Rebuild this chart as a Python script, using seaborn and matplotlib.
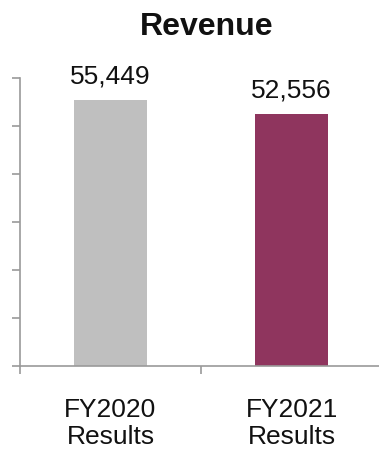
import matplotlib
matplotlib.use("Agg")
import matplotlib.pyplot as plt
import seaborn as sns
import pandas as pd

categories = ["FY2020\nResults", "FY2021\nResults"]
revenue = [55449, 52556]
bar_colors = ["#BFBFBF", "#8F355E"]
title = "Revenue"

sns.set_theme(style="white")
plt.rcParams["font.family"] = ["Liberation Sans", "DejaVu Sans"]

df = pd.DataFrame({"period": categories, "revenue": revenue})

fig = plt.figure(figsize=(3.79, 4.5), dpi=100)
ax = fig.add_axes([20 / 379, 84 / 450, 362 / 379, 288 / 450])

sns.barplot(data=df, x="period", y="revenue", hue="period",
            palette=bar_colors, width=0.4, legend=False, ax=ax,
            saturation=1, edgecolor="none")

for cont in ax.containers:
    ax.bar_label(cont, labels=[f"{v:,.0f}" for v in cont.datavalues],
                 padding=8, fontsize=19, color="#111111")

ax.set_ylim(0, 60000)
ax.set_xlim(-0.5, 1.5)
ax.set_yticks(range(0, 60001, 10000))
ax.set_yticklabels([])
ax.set_xlabel("")
ax.set_ylabel("")

axis_gray = "#9A9A9A"
for side in ["top", "right"]:
    ax.spines[side].set_visible(False)
for side in ["left", "bottom"]:
    ax.spines[side].set_color(axis_gray)
    ax.spines[side].set_linewidth(1.2)

ax.tick_params(axis="y", which="major", direction="out", length=6,
               width=1.2, color=axis_gray, left=True)
ax.set_xticks([-0.5, 0.5, 1.5], minor=True)
ax.tick_params(axis="x", which="minor", direction="out", length=6,
               width=1.2, color=axis_gray, bottom=True)
ax.tick_params(axis="x", which="major", length=0, pad=23,
               labelsize=19, labelcolor="#111111")
for lbl in ax.get_xticklabels():
    lbl.set_linespacing(1.15)

fig.text(207 / 379, 1 - 27 / 450, title, ha="center", va="center",
         fontsize=23, fontweight="bold", color="#111111")

fig.savefig("out.png", dpi=100)
